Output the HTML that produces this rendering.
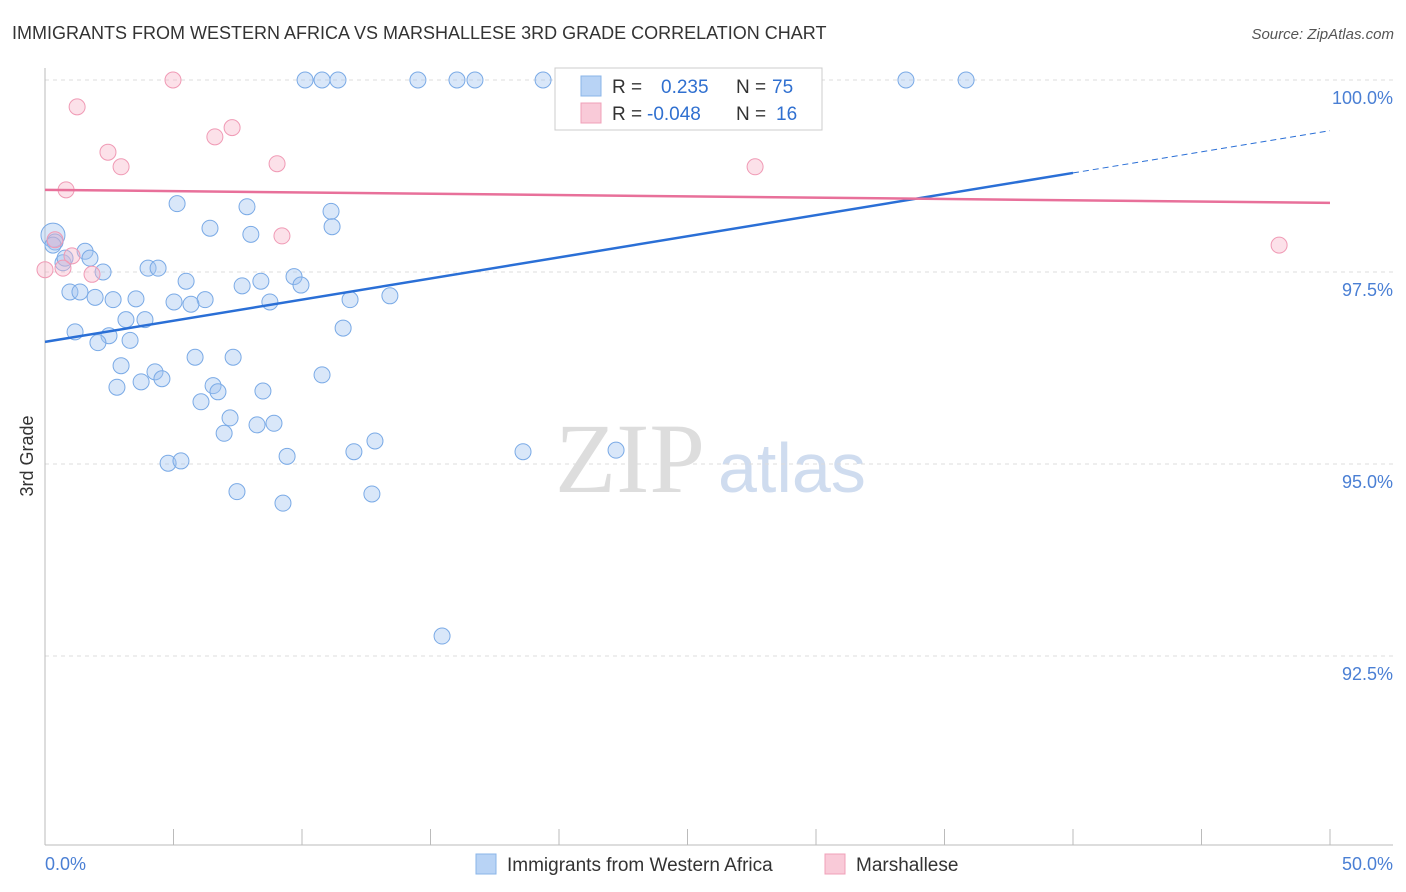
<!DOCTYPE html>
<html><head><meta charset="utf-8"><style>
body{margin:0;background:#fff;font-family:"Liberation Sans",sans-serif;}
svg{display:block}
</style></head><body>
<svg id="chart" width="1406" height="892">
<text x="12" y="39" font-size="18" fill="#333">IMMIGRANTS FROM WESTERN AFRICA VS MARSHALLESE 3RD GRADE CORRELATION CHART</text>
<text x="1394" y="39" font-size="15" fill="#555" font-style="italic" text-anchor="end">Source: ZipAtlas.com</text>
<text x="33" y="456" font-size="18" fill="#333" transform="rotate(-90 33 456)" text-anchor="middle">3rd Grade</text>
<text x="555" y="492" font-size="100" fill="#ddd" font-family="Liberation Serif,serif">ZIP</text>
<text x="718" y="492" font-size="70" fill="#cfdcef">atlas</text>
<g id="grid"></g><g id="axes"></g><g id="pts"></g><g id="lines"></g>
<g>
<rect x="555" y="68" width="267" height="62" fill="#fff" stroke="#ccc"/>
<rect x="581" y="76" width="20" height="20" fill="#b8d3f5" stroke="#8ab4e8"/>
<rect x="581" y="103" width="20" height="20" fill="#f9cad8" stroke="#f0a0b8"/>
<text x="612" y="93" font-size="19" fill="#333">R = <tspan fill="#3070d0" x="661">0.235</tspan><tspan fill="#333" x="736">N = </tspan><tspan fill="#3070d0" x="772">75</tspan></text>
<text x="612" y="120" font-size="19" fill="#333">R = <tspan fill="#3070d0" x="647">-0.048</tspan><tspan fill="#333" x="736">N = </tspan><tspan fill="#3070d0" x="776">16</tspan></text>
</g>
<g>
<rect x="476" y="854" width="20" height="20" fill="#b8d3f5" stroke="#8ab4e8"/>
<text x="507" y="871" font-size="19" fill="#333">Immigrants from Western Africa</text>
<rect x="825" y="854" width="20" height="20" fill="#f9cad8" stroke="#f0a0b8"/>
<text x="856" y="871" font-size="19" fill="#333">Marshallese</text>
</g>
</svg>
<script>
const blueX=[0.31,0.39,1.56,1.75,0.70,2.26,0.97,1.36,1.95,2.65,3.54,4.01,4.40,5.14,5.49,6.42,7.86,8.01,8.40,7.67,9.69,9.96,8.75,6.23,5.68,5.02,11.13,11.17,11.87,13.42,11.60,3.15,3.89,2.49,1.17,2.06,3.31,2.96,4.28,4.55,3.74,2.80,5.84,7.32,6.54,6.73,6.07,8.48,10.78,7.20,6.97,8.25,8.91,9.42,12.02,12.84,4.79,5.29,7.47,9.26,12.72,18.60,22.22,15.45,10.12,10.78,11.40,14.51,16.03,16.73,19.38,33.50,35.84,0.78,0.31];
const blueY=[97.98,97.89,97.77,97.68,97.62,97.50,97.24,97.24,97.17,97.14,97.15,97.55,97.55,98.39,97.38,98.07,98.35,97.99,97.38,97.32,97.44,97.33,97.11,97.14,97.08,97.11,98.29,98.09,97.14,97.19,96.77,96.88,96.88,96.67,96.72,96.58,96.61,96.28,96.20,96.11,96.07,96.00,96.39,96.39,96.02,95.94,95.81,95.95,96.16,95.60,95.40,95.51,95.53,95.10,95.16,95.30,95.01,95.04,94.64,94.49,94.61,95.16,95.18,92.76,100,100,100,100,100,100,100,100,100,97.68,97.85];
const pinkX=[1.25,4.98,2.45,2.96,6.61,7.28,9.03,0.82,9.22,27.63,48.02,0.39,1.05,0.70,1.83,0];
const pinkY=[99.65,100,99.06,98.87,99.26,99.38,98.91,98.57,97.97,98.87,97.85,97.92,97.71,97.55,97.47,97.53];
const blueTrend=[96.59,99.34];
const pinkTrend=[98.57,98.40];
const yTicks=[100,97.5,95,92.5];
const yTickLabels=["100.0%","97.5%","95.0%","92.5%"];
const NS="http://www.w3.org/2000/svg";
const sx=v=>45+v*1285/50, sy=v=>80+(100-v)*76.8;
function mk(tag,attrs,parent){const e=document.createElementNS(NS,tag);for(const k in attrs)e.setAttribute(k,attrs[k]);document.getElementById(parent).appendChild(e);return e;}
yTicks.forEach((t,i)=>{
 const l=mk('line',{x1:45,x2:1393,y1:sy(t),y2:sy(t),stroke:'#ddd','stroke-dasharray':'4,4'},'grid');
 
 
 const tx=mk('text',{x:1393,y:sy(t)+24,'font-size':18,fill:'#4a7fd4','text-anchor':'end'},'grid');
 tx.textContent=yTickLabels[i];
 
 
});
let a=mk('line',{x1:45,x2:45,y1:68,y2:845,stroke:'#bbb'},'axes');


a=mk('line',{x1:45,x2:1393,y1:845,y2:845,stroke:'#bbb'},'axes');


for(let i=0;i<=10;i++){const t=mk('line',{x1:sx(i*5),x2:sx(i*5),y1:829,y2:845,stroke:'#bbb'},'axes');
 
 }
let xl=mk('text',{x:45,y:870,'font-size':18,fill:'#4a7fd4'},'axes');xl.textContent='0.0%';


xl=mk('text',{x:1393,y:870,'font-size':18,fill:'#4a7fd4','text-anchor':'end'},'axes');xl.textContent='50.0%';


blueX.forEach((x,i)=>{const c=mk('circle',{cx:sx(x),cy:sy(blueY[i]),r:i==0?12:8,fill:'rgba(160,196,240,0.4)',stroke:'#7aaae6','stroke-width':1},'pts');
 
 });
pinkX.forEach((x,i)=>{const c=mk('circle',{cx:sx(x),cy:sy(pinkY[i]),r:8,fill:'rgba(248,180,200,0.4)',stroke:'#f09ab5','stroke-width':1},'pts');
 
 });
const bAt=x=>blueTrend[0]+(blueTrend[1]-blueTrend[0])*x/50;
let tl=mk('line',{x1:sx(0),y1:sy(bAt(0)),x2:sx(40),y2:sy(bAt(40)),stroke:'#2a6fd6','stroke-width':2.5},'lines');


tl=mk('line',{x1:sx(40),y1:sy(bAt(40)),x2:sx(50),y2:sy(bAt(50)),stroke:'#2a6fd6','stroke-width':1,'stroke-dasharray':'6,4'},'lines');


tl=mk('line',{x1:sx(0),y1:sy(pinkTrend[0]),x2:sx(50),y2:sy(pinkTrend[1]),stroke:'#e8709a','stroke-width':2.5},'lines');


</script>
</body></html>
